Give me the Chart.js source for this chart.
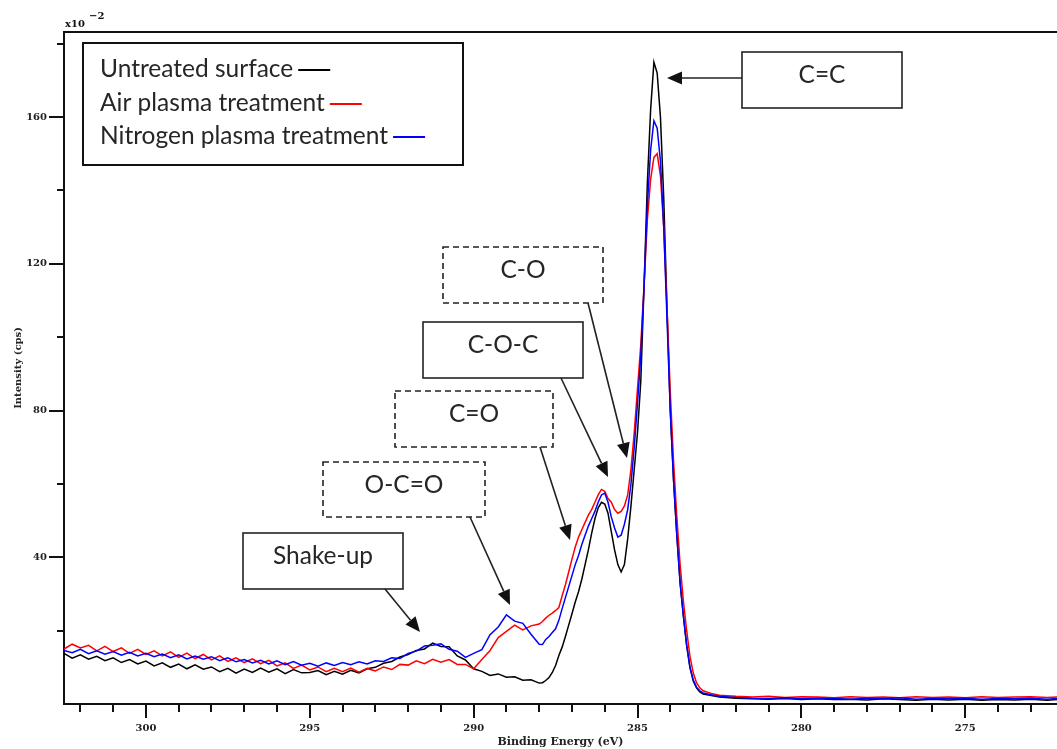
<!DOCTYPE html>
<html>
<head>
<meta charset="utf-8">
<title>XPS C1s</title>
<script src="https://cdn.jsdelivr.net/npm/chart.js@4.4.1/dist/chart.umd.min.js"></script>
<style>
  html, body { margin: 0; padding: 0; background: #fff; }
  #wrap { position: relative; width: 1057px; height: 749px; }
</style>
</head>
<body>
<div id="wrap"><canvas id="xpsChart"></canvas></div>
<script>
// Энергия связи (eV)
const energies = [
  302.5, 302.25, 302, 301.75,
  301.5, 301.25, 301, 300.75,
  300.5, 300.25, 300, 299.75,
  299.5, 299.25, 299, 298.75,
  298.5, 298.25, 298, 297.75,
  297.5, 297.25, 297, 296.75,
  296.5, 296.25, 296, 295.75,
  295.5, 295.25, 295, 294.75,
  294.5, 294.25, 294, 293.75,
  293.5, 293.25, 293, 292.75,
  292.5, 292.25, 292, 291.75,
  291.5, 291.25, 291, 290.75,
  290.5, 290.25, 290, 289.75,
  289.5, 289.25, 289, 288.75,
  288.5, 288.25, 288,
  287.9, 287.8, 287.7, 287.6, 287.5, 287.4, 287.3, 287.2, 287.1, 287.0,
  286.9, 286.8, 286.7, 286.6, 286.5, 286.4, 286.3, 286.2, 286.1, 286.0,
  285.9, 285.8, 285.7, 285.6, 285.5, 285.4, 285.3, 285.2, 285.1, 285.0,
  284.9, 284.8, 284.7, 284.6, 284.5, 284.4, 284.3, 284.2, 284.1, 284.0,
  283.9, 283.8, 283.7, 283.6, 283.5, 283.4, 283.3, 283.2, 283.1, 283.0,
  282.75, 282.5, 282, 281.5, 281, 280.5, 280, 279.5, 279, 278.5, 278, 277.5,
  277, 276.5, 276, 275.5, 275, 274.5, 274, 273.5, 273, 272.5, 272.2
];

// Интенсивность (x10^-2 cps)
const untreated = [
  13.8, 12.5, 13.4, 12.2,
  13.0, 11.8, 12.6, 11.3,
  12.1, 10.9, 11.7, 10.4,
  11.2, 10.0, 10.9, 9.6,
  10.7, 9.5, 10.1, 8.8,
  9.7, 8.4, 9.5, 8.6,
  9.8, 8.7, 9.6, 8.3,
  9.4, 8.5, 8.6, 9.1,
  8.0, 8.9, 8.1, 9.2,
  8.5, 9.6, 10.0, 11.1,
  11.6, 12.8, 13.5, 14.6,
  15.0, 16.6, 15.7, 15.6,
  13.1, 12.0, 9.6, 8.9,
  7.8, 8.2, 7.3, 7.4,
  6.5, 6.6, 5.7,
  5.8, 6.4, 7.2, 8.6, 10.5, 13.2, 15.5, 18.4, 21.5, 24.6,
  27.8, 30.6, 34, 38, 42, 46.5, 50.5, 53.5, 55, 54.5,
  52, 47, 42, 38, 36, 38, 45, 54, 64, 74,
  88, 114, 142, 162, 175, 172, 160, 138, 108, 80,
  61, 46, 33, 24, 16, 10, 6.3, 4.4, 3.3, 2.7,
  2.3, 1.9, 1.6, 1.4, 1.3, 1.5, 1.2, 1.4, 1.2, 1.3, 1.1, 1.4,
  1.2, 1.0, 1.3, 1.1, 1.3, 1.0, 1.2, 1.1, 1.3, 1.0, 1.2
];

const airPlasma = [
  15.0, 16.3, 15.3, 16.0,
  14.5, 15.7, 14.3, 15.3,
  13.8, 14.9, 13.5, 14.5,
  13.1, 14.2, 12.7, 13.9,
  12.4, 13.5, 12.0, 13.1,
  11.6, 12.6, 11.3, 12.3,
  11.0, 11.9, 10.4, 11.2,
  9.7, 10.6, 9.3, 10.1,
  8.8, 9.7, 8.8, 9.8,
  8.7, 9.7, 9.0, 10.1,
  9.4, 10.8, 10.6, 11.8,
  11.0, 12.2, 11.4, 12.1,
  10.8, 10.8, 9.6, 12.1,
  14.6, 18.1, 19.8, 21.5,
  20.2, 21.3, 21.8,
  22.5, 23.4, 24.2, 24.8, 25.5, 26.3, 29.5, 32.5, 36, 39.5,
  42.8, 45.5, 47.5, 49.5, 51.5, 53, 55, 57, 58.5, 58,
  56, 55, 53, 52, 52.5, 54, 57, 64, 74, 86,
  98, 114, 132, 143, 149, 150, 144, 130, 108, 85,
  66, 51, 38, 28, 20, 13, 8.5, 5.8, 4.4, 3.6,
  2.9, 2.4, 2.1, 1.9, 2.1, 1.8, 2.0, 1.9, 1.7, 2.0, 1.8, 1.9,
  1.7, 2.0, 1.8, 1.9, 1.7, 2.0, 1.8, 1.9, 2.0, 1.8, 1.9
];

const nitrogenPlasma = [
  14.6, 14.0, 14.9, 13.7,
  14.5, 13.6, 14.3, 13.3,
  14.1, 13.1, 13.8, 12.9,
  13.6, 12.6, 13.4, 12.3,
  13.1, 12.2, 12.9, 11.8,
  12.6, 11.5, 12.1, 11.2,
  11.9, 10.9, 11.8, 10.7,
  11.6, 10.6, 11.1, 10.3,
  11.2, 10.5, 11.3, 10.7,
  11.5, 10.9, 11.8, 11.6,
  12.6, 12.4, 13.8, 14.4,
  15.8, 16.0, 16.4, 14.9,
  14.4, 12.7, 13.8, 14.8,
  18.9, 21.0, 24.3, 22.6,
  22.0, 19.0, 16.3,
  16.2, 17.6, 18.4, 19.5, 20.5, 22.8, 26, 29, 32, 35,
  38, 40.5, 43.5, 46, 48.5, 50.5, 52.5, 55, 57, 57.5,
  55, 51, 48, 45.5, 46, 49, 53, 60, 70, 82,
  95, 114, 136, 151, 159, 157, 148, 130, 105, 80,
  61, 46, 33, 24, 16, 10, 6.6, 4.6, 3.6, 3.0,
  2.5, 2.1, 1.8, 1.6, 1.5, 1.7, 1.4, 1.6, 1.5, 1.3, 1.6, 1.4,
  1.7, 1.3, 1.5, 1.4, 1.6, 1.3, 1.5, 1.4, 1.6, 1.3, 1.5
];

const seriesNames = ['Untreated surface', 'Air plasma treatment', 'Nitrogen plasma treatment'];
const xTickLabels = [300, 295, 290, 285, 280, 275];
const yTickLabels = [40, 80, 120, 160];

const seriesColors = ['#000000', '#ff0000', '#0000ff'];
const tickFont = { family: 'DejaVu Serif', size: 10, weight: 'bold' };

// Подписи со стрелками (пиксели)
const callouts = [
  { text: 'C=C',      box: [742, 52, 160, 56], dashed: false, from: [742, 78],  to: [667, 78] },
  { text: 'C-O',      box: [443, 247, 160, 56], dashed: true, from: [588, 303], to: [627, 458] },
  { text: 'C-O-C',    box: [423, 322, 160, 56], dashed: false, from: [561, 378], to: [608, 477] },
  { text: 'C=O',      box: [395, 391, 158, 56], dashed: true, from: [540, 447], to: [570, 540] },
  { text: 'O-C=O',    box: [323, 462, 162, 55], dashed: true, from: [470, 517], to: [510, 605] },
  { text: 'Shake-up', box: [243, 533, 160, 56], dashed: false, from: [385, 589], to: [420, 632] }
];

function drawArrow(ctx, from, to) {
  const ang = Math.atan2(to[1] - from[1], to[0] - from[0]);
  const head = 15, half = 6.5;
  const bx = to[0] - head * Math.cos(ang), by = to[1] - head * Math.sin(ang);
  ctx.beginPath();
  ctx.moveTo(from[0], from[1]);
  ctx.lineTo(bx, by);
  ctx.stroke();
  ctx.beginPath();
  ctx.moveTo(to[0], to[1]);
  ctx.lineTo(bx + half * Math.sin(ang), by - half * Math.cos(ang));
  ctx.lineTo(bx - half * Math.sin(ang), by + half * Math.cos(ang));
  ctx.closePath();
  ctx.fill();
}

const decorPlugin = {
  id: 'xpsDecor',
  afterDraw(chart) {
    const { ctx, chartArea: a } = chart;
    const x = chart.scales.x, y = chart.scales.y;
    ctx.save();
    ctx.strokeStyle = '#111';
    ctx.fillStyle = '#111';
    ctx.lineWidth = 2;

    // верхняя рамка
    ctx.beginPath();
    ctx.moveTo(a.left, a.top);
    ctx.lineTo(a.right, a.top);
    ctx.stroke();

    // засечки оси X
    for (let e = 273; e <= 302; e++) {
      const px = Math.round(x.getPixelForValue(e));
      const len = xTickLabels.includes(e) ? 14 : 8;
      ctx.beginPath();
      ctx.moveTo(px, a.bottom);
      ctx.lineTo(px, a.bottom + len);
      ctx.stroke();
    }
    // засечки оси Y
    for (let v = 20; v <= 180; v += 20) {
      const py = Math.round(y.getPixelForValue(v));
      const len = yTickLabels.includes(v) ? 15 : 7;
      ctx.beginPath();
      ctx.moveTo(a.left, py);
      ctx.lineTo(a.left - len, py);
      ctx.stroke();
    }

    // множитель x10^-2
    ctx.font = 'bold 10px "DejaVu Serif"';
    ctx.textBaseline = 'middle';
    ctx.textAlign = 'left';
    ctx.fillText('x10', a.left + 1, 24);
    ctx.fillText('\u22122', a.left + 25, 16);

    // легенда
    ctx.lineWidth = 2;
    ctx.fillStyle = '#fff';
    ctx.fillRect(83, 43, 380, 122);
    ctx.strokeStyle = '#111';
    ctx.strokeRect(83, 43, 380, 122);
    ctx.font = '24.5px Lato';
    const rowY = [69, 103, 136];
    seriesNames.forEach((name, i) => {
      ctx.fillStyle = '#262626';
      ctx.fillText(name, 100, rowY[i]);
      const w = ctx.measureText(name).width;
      ctx.strokeStyle = seriesColors[i];
      ctx.beginPath();
      ctx.moveTo(100 + w + 5, rowY[i] + 1);
      ctx.lineTo(100 + w + 37, rowY[i] + 1);
      ctx.stroke();
    });

    // подписи пиков
    callouts.forEach(c => {
      const [bx, by, bw, bh] = c.box;
      ctx.fillStyle = '#fff';
      ctx.fillRect(bx, by, bw, bh);
      ctx.strokeStyle = '#222';
      ctx.lineWidth = 1.6;
      ctx.setLineDash(c.dashed ? [6, 4] : []);
      ctx.strokeRect(bx, by, bw, bh);
      ctx.setLineDash([]);
      ctx.fillStyle = '#262626';
      ctx.textAlign = 'center';
      ctx.fillText(c.text, bx + bw / 2, by + 23);
      ctx.strokeStyle = '#222';
      ctx.fillStyle = '#111';
      ctx.lineWidth = 1.6;
      drawArrow(ctx, c.from, c.to);
    });
    ctx.restore();
  }
};

function toPoints(values) {
  return energies.map((e, i) => ({ x: e, y: values[i] }));
}

const ctx = document.getElementById('xpsChart').getContext('2d');
new Chart(ctx, {
  type: 'line',
  data: {
    datasets: [
      { label: seriesNames[0], data: toPoints(untreated), borderColor: seriesColors[0], order: 3 },
      { label: seriesNames[1], data: toPoints(airPlasma), borderColor: seriesColors[1], order: 2 },
      { label: seriesNames[2], data: toPoints(nitrogenPlasma), borderColor: seriesColors[2], order: 1 }
    ]
  },
  options: {
    responsive: true,
    maintainAspectRatio: false,
    animation: false,
    elements: {
      line: { borderWidth: 1.5, tension: 0, fill: false },
      point: { radius: 0 }
    },
    layout: { padding: { top: 32, right: 0, left: 0, bottom: 0 } },
    plugins: {
      legend: { display: false },
      tooltip: { enabled: false }
    },
    scales: {
      x: {
        type: 'linear',
        reverse: true,
        min: 272.2,
        max: 302.5,
        grid: { display: false },
        border: { display: true, color: '#111', width: 2 },
        ticks: {
          stepSize: 5,
          autoSkip: false,
          maxRotation: 0,
          padding: 10,
          color: '#222',
          font: tickFont,
          callback: v => xTickLabels.includes(v) ? String(v) : null
        },
        title: {
          display: true,
          text: 'Binding Energy (eV)',
          color: '#222',
          font: { family: 'DejaVu Serif', size: 11, weight: 'bold' },
          padding: { top: 0, bottom: 0 }
        },
        afterFit: s => { s.height = 45; }
      },
      y: {
        min: 0,
        max: 183.2,
        grid: { display: false },
        border: { display: true, color: '#111', width: 2 },
        ticks: {
          stepSize: 40,
          padding: 9,
          color: '#222',
          font: tickFont,
          callback: v => yTickLabels.includes(v) ? String(v) : null
        },
        title: {
          display: true,
          text: 'Intensity (cps)',
          color: '#222',
          font: { family: 'DejaVu Serif', size: 10, weight: 'bold' },
          padding: { top: 12, bottom: 0 }
        },
        afterFit: s => { s.width = 64; }
      }
    }
  },
  plugins: [decorPlugin]
});
</script>
</body>
</html>
